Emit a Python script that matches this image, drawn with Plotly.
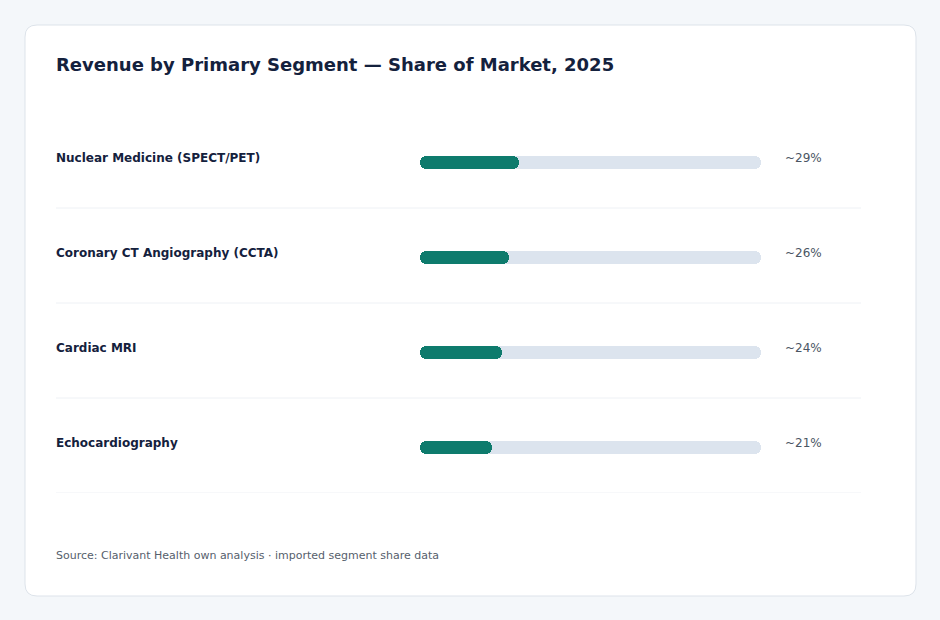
import plotly.graph_objects as go

categories = ["Nuclear Medicine (SPECT/PET)", "Coronary CT Angiography (CCTA)", "Cardiac MRI", "Echocardiography"]
shares = [29, 26, 24, 21]
value_labels = ["~29%", "~26%", "~24%", "~21%"]
track_max = 100

W, H = 940, 620
def px(x):
    return x / W
def py(y):
    return 1 - y / H

FONT = "DejaVu Sans"
NAVY = "#14213d"
GREEN = "#0e7b6d"
TRACK = "#dce4ee"

ypos = list(range(len(categories)))
BW = 0.137
OFF = -BW / 2 + 2.0 / 95


def pill(values, color, hover):
    # explicit base -> plotly rounds both ends of the bar
    return go.Bar(x=values, base=[0] * len(values), y=ypos, orientation="h",
                  width=BW, offset=OFF, showlegend=False,
                  marker=dict(color=color, line=dict(width=0), cornerradius="50%"),
                  hovertemplate="%{x}%<extra></extra>" if hover else None,
                  hoverinfo=None if hover else "skip")


fig = go.Figure()
fig.add_trace(pill([track_max] * len(categories), TRACK, False))
fig.add_trace(pill(shares, GREEN, True))

# card background (rounded rectangle)
x0, y0, x1, y1, r = 25, 25, 916, 596, 12
path = (
    f"M {px(x0+r)},{py(y0)} L {px(x1-r)},{py(y0)} "
    f"Q {px(x1)},{py(y0)} {px(x1)},{py(y0+r)} "
    f"L {px(x1)},{py(y1-r)} Q {px(x1)},{py(y1)} {px(x1-r)},{py(y1)} "
    f"L {px(x0+r)},{py(y1)} Q {px(x0)},{py(y1)} {px(x0)},{py(y1-r)} "
    f"L {px(x0)},{py(y0+r)} Q {px(x0)},{py(y0)} {px(x0+r)},{py(y0)} Z"
)
shapes = [dict(type="path", path=path, xref="paper", yref="paper",
               fillcolor="white", line=dict(color="#dde3ea", width=1), layer="below")]

for i in ypos:
    shapes.append(dict(type="line", xref="paper", yref="y",
                       x0=px(56), x1=px(861), y0=i + 0.5, y1=i + 0.5,
                       line=dict(color="#eef1f5", width=1), layer="below"))

annotations = [
    dict(text="<b>Revenue by Primary Segment — Share of Market, 2025</b>",
         xref="paper", yref="paper", x=px(54), y=py(64.5), xanchor="left", yanchor="middle",
         showarrow=False, font=dict(family=FONT, size=18, color=NAVY)),
    dict(text="Source: Clarivant Health own analysis · imported segment share data",
         xref="paper", yref="paper", x=px(54), y=py(555), xanchor="left", yanchor="middle",
         showarrow=False, font=dict(family=FONT, size=11, color="#56606c")),
]
for i, (c, v) in enumerate(zip(categories, value_labels)):
    annotations.append(dict(text=f"<b>{c}</b>", xref="paper", yref="y", x=px(54), y=i,
                            yshift=3, xanchor="left", yanchor="middle", showarrow=False,
                            font=dict(family=FONT, size=12, color=NAVY)))
    annotations.append(dict(text=v, xref="paper", yref="y", x=px(783), y=i,
                            yshift=3, xanchor="left", yanchor="middle", showarrow=False,
                            font=dict(family=FONT, size=12, color="#4a5563")))

fig.update_layout(
    width=W, height=H, margin=dict(l=0, r=0, t=0, b=0),
    paper_bgcolor="#f4f7fa", plot_bgcolor="rgba(0,0,0,0)",
    barmode="overlay", bargap=0,
    xaxis=dict(domain=[px(420), px(761)], range=[0, track_max], visible=False, fixedrange=True),
    yaxis=dict(domain=[py(493), py(113)], range=[len(categories) - 0.5, -0.5], visible=False, fixedrange=True),
    shapes=shapes, annotations=annotations,
    font=dict(family=FONT),
)

fig.write_html("out.html")
